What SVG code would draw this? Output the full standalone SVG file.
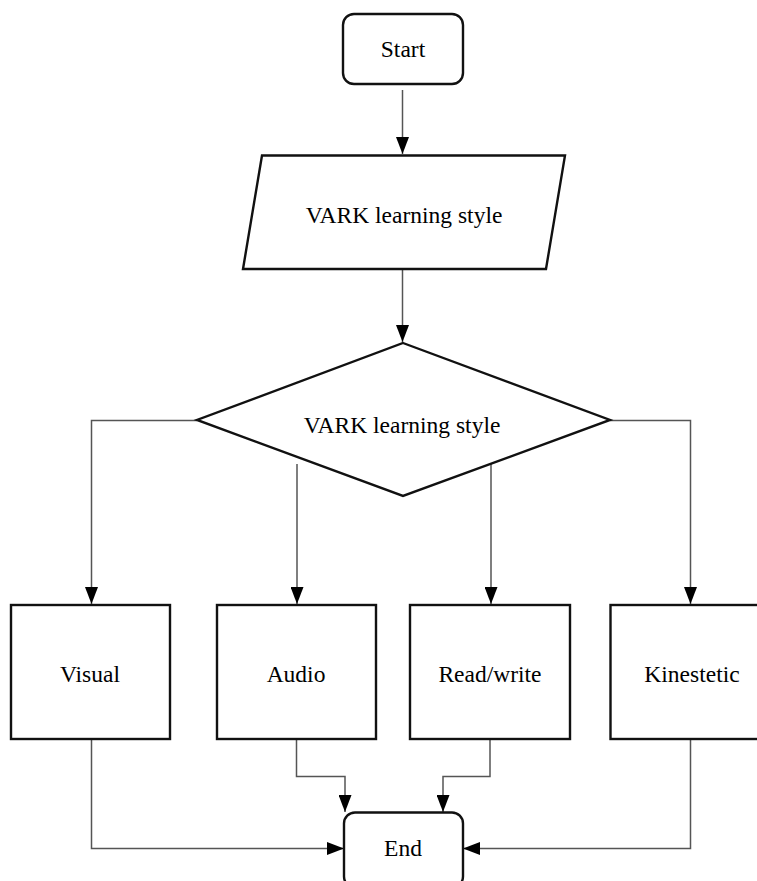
<svg xmlns="http://www.w3.org/2000/svg" width="757" height="881" viewBox="0 0 757 881">
<style>
.node{fill:#fff;stroke:#111;stroke-width:2.4}
.lbl{font-family:"Liberation Serif","Times New Roman",serif;font-size:23.5px;fill:#000;text-anchor:middle}
.con{fill:none;stroke:#555;stroke-width:1.5}
</style>
<defs>
<marker id="arr" viewBox="0 0 17 13" refX="17" refY="6.5" markerWidth="17" markerHeight="13" markerUnits="userSpaceOnUse" orient="auto">
<path d="M0,0 L17,6.5 L0,13 Z" fill="#000"/>
</marker>
</defs>
<rect width="757" height="881" fill="#fff"/>
<g id="connectors">
<path class="con" d="M402.5,90 V154" marker-end="url(#arr)"/>
<path class="con" d="M402.5,270 V342" marker-end="url(#arr)"/>
<path class="con" d="M197,420.5 H91.5 V604" marker-end="url(#arr)"/>
<path class="con" d="M610,420.5 H690.5 V604" marker-end="url(#arr)"/>
<path class="con" d="M297,464 V604" marker-end="url(#arr)"/>
<path class="con" d="M491,464 V604" marker-end="url(#arr)"/>
<path class="con" d="M91.5,740 V848.5 H344" marker-end="url(#arr)"/>
<path class="con" d="M690.5,740 V848.5 H463" marker-end="url(#arr)"/>
<path class="con" d="M296.5,740 V776.5 H345 V812" marker-end="url(#arr)"/>
<path class="con" d="M490,740 V776.5 H443 V812" marker-end="url(#arr)"/>
</g>
<g id="start">
<rect class="node" x="343" y="14" width="120" height="70" rx="11"/>
<text class="lbl" x="403" y="57">Start</text>
</g>
<g id="input">
<polygon class="node" points="262,155.5 565,155.5 546,269 243,269"/>
<text class="lbl" x="404" y="223">VARK learning style</text>
</g>
<g id="decision">
<polygon class="node" points="403,343 610,420 403,496 197,420"/>
<text class="lbl" x="402" y="433">VARK learning style</text>
</g>
<g id="visual">
<rect class="node" x="11" y="605" width="159" height="134"/>
<text class="lbl" x="90" y="682">Visual</text>
</g>
<g id="audio">
<rect class="node" x="217" y="605" width="159" height="134"/>
<text class="lbl" x="296" y="682">Audio</text>
</g>
<g id="readwrite">
<rect class="node" x="410" y="605" width="160" height="134"/>
<text class="lbl" x="490" y="682">Read/write</text>
</g>
<g id="kinestetic">
<rect class="node" x="610.5" y="605" width="160" height="134"/>
<text class="lbl" x="692" y="682">Kinestetic</text>
</g>
<g id="end">
<rect class="node" x="344" y="812.5" width="119" height="75" rx="11"/>
<text class="lbl" x="403" y="856">End</text>
</g>
</svg>
